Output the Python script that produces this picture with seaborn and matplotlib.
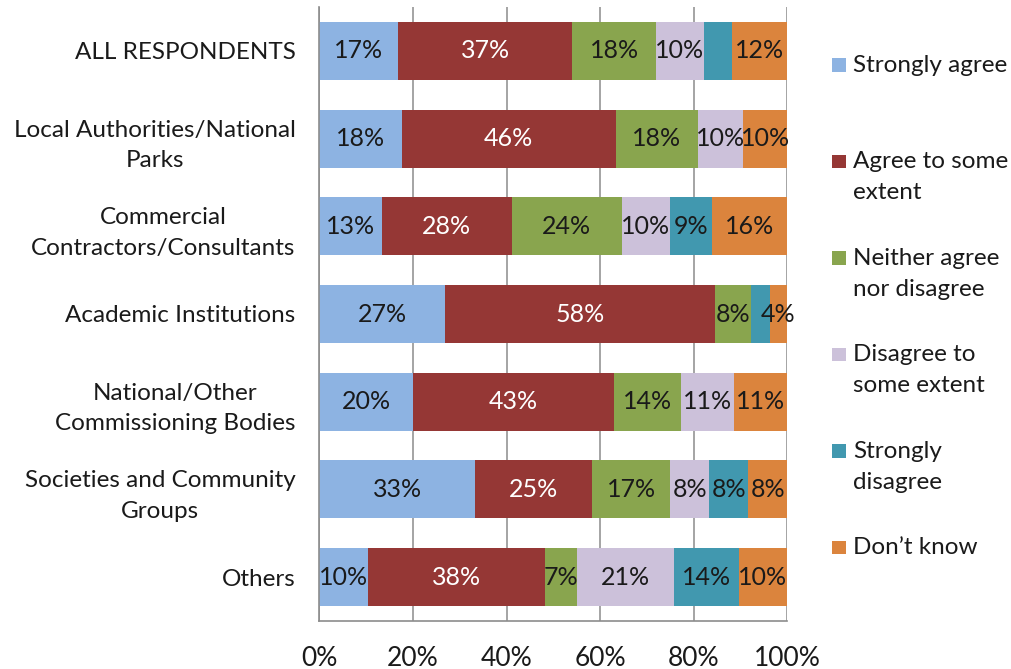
import matplotlib
matplotlib.use("Agg")
import matplotlib.pyplot as plt
import matplotlib.patches as mpatches
import numpy as np
import pandas as pd
import seaborn as sns

# Respondent groups (top to bottom) and answer options
groups = [
    "ALL RESPONDENTS",
    "Local Authorities/National\nParks",
    "Commercial\nContractors/Consultants",
    "Academic Institutions",
    "National/Other\nCommissioning Bodies",
    "Societies and Community\nGroups",
    "Others",
]
responses = [
    "Strongly agree",
    "Agree to some\nextent",
    "Neither agree\nnor disagree",
    "Disagree to\nsome extent",
    "Strongly\ndisagree",
    "Don\u2019t know",
]

# Share of each group giving each answer (%)
strongly_agree = [16.9, 17.6, 13.3, 26.9, 20.0, 33.3, 10.3]
agree_some = [37.2, 45.7, 27.8, 57.7, 42.9, 25.0, 37.9]
neither = [17.8, 17.6, 23.6, 7.7, 14.3, 16.7, 6.9]
disagree_some = [10.2, 9.6, 10.2, 0.0, 11.4, 8.3, 20.7]
strongly_disagree = [6.0, 0.0, 9.1, 3.9, 0.0, 8.3, 13.8]
dont_know = [11.9, 9.5, 16.0, 3.8, 11.4, 8.4, 10.4]

# Segments whose value label is left off (group index, answer index)
unlabelled = [(0, 4), (3, 4)]

colors = ["#8DB3E2", "#953735", "#89A54E", "#CCC1DA", "#4198AF", "#DB843D"]
label_colors = ["#1a1a1a", "white", "#1a1a1a", "#1a1a1a", "#1a1a1a", "#1a1a1a"]
grid_color = "#8c8c8c"
text_color = "#1a1a1a"

sns.set_theme(style="white")
plt.rcParams["font.family"] = ["Lato", "DejaVu Sans"]

values = np.array([strongly_agree, agree_some, neither, disagree_some,
                   strongly_disagree, dont_know]).T
cumulative = np.cumsum(values, axis=1)

W, H = 1011, 669
fig = plt.figure(figsize=(W / 100, H / 100), dpi=100)
ax = fig.add_axes([319.3 / W, 1 - 621 / H, (787.3 - 319.3) / W, (621 - 7) / H])

# Stacked bars: draw running totals from the widest down so each overlays the next
for k in reversed(range(len(responses))):
    df = pd.DataFrame({"group": groups, "total": cumulative[:, k]})
    sns.barplot(data=df, x="total", y="group", order=groups, orient="h",
                color=colors[k], saturation=1, width=0.66, errorbar=None,
                linewidth=0, ax=ax, zorder=2)

# Value labels centred in each segment
for i in range(len(groups)):
    for k in range(len(responses)):
        v = values[i, k]
        if v <= 0 or (i, k) in unlabelled:
            continue
        centre = cumulative[i, k] - v / 2
        ax.text(centre, i, f"{int(v + 0.5)}%", ha="center", va="center",
                color=label_colors[k], fontsize=18, zorder=3)

ax.set_xlim(0, 100)
ax.set_ylim(len(groups) - 0.5, -0.5)
ax.set_xlabel("")
ax.set_ylabel("")

ax.set_xticks(np.arange(0, 101, 20))
ax.set_xticklabels([f"{t}%" for t in range(0, 101, 20)], fontsize=19, color=text_color)
ax.set_yticks(range(len(groups)))
ax.set_yticklabels(groups, fontsize=17.5, color=text_color)
for lab in ax.get_yticklabels():
    lab.set_multialignment("center")
    lab.set_linespacing(1.55)
ax.set_yticks(np.arange(-0.5, len(groups), 1), minor=True)

ax.tick_params(axis="y", which="major", length=0, pad=17)
ax.tick_params(axis="y", which="minor", length=6.5, width=1.2, color=grid_color, direction="out")
ax.tick_params(axis="x", which="major", length=5, width=1.2, color=grid_color,
               direction="out", pad=13)

ax.grid(axis="x", color=grid_color, linewidth=1.1, zorder=0)
ax.grid(axis="y", visible=False)
ax.set_axisbelow(True)
for side in ["top", "right"]:
    ax.spines[side].set_visible(False)
for side in ["left", "bottom"]:
    ax.spines[side].set_color(grid_color)
    ax.spines[side].set_linewidth(1.2)

# Legend on the right, one evenly spaced slot per answer
line_step = 31.0
for k, name in enumerate(responses):
    baseline = 71.7 + 96.5 * k
    fig.add_artist(mpatches.Rectangle((832 / W, 1 - baseline / H), 13.5 / W, 13.5 / H,
                                      transform=fig.transFigure, facecolor=colors[k],
                                      edgecolor="none"))
    for j, line in enumerate(name.split("\n")):
        fig.text(853 / W, 1 - (baseline + j * line_step) / H, line, ha="left",
                 va="baseline", fontsize=17.5, color=text_color)

fig.savefig("out.png", dpi=100)
